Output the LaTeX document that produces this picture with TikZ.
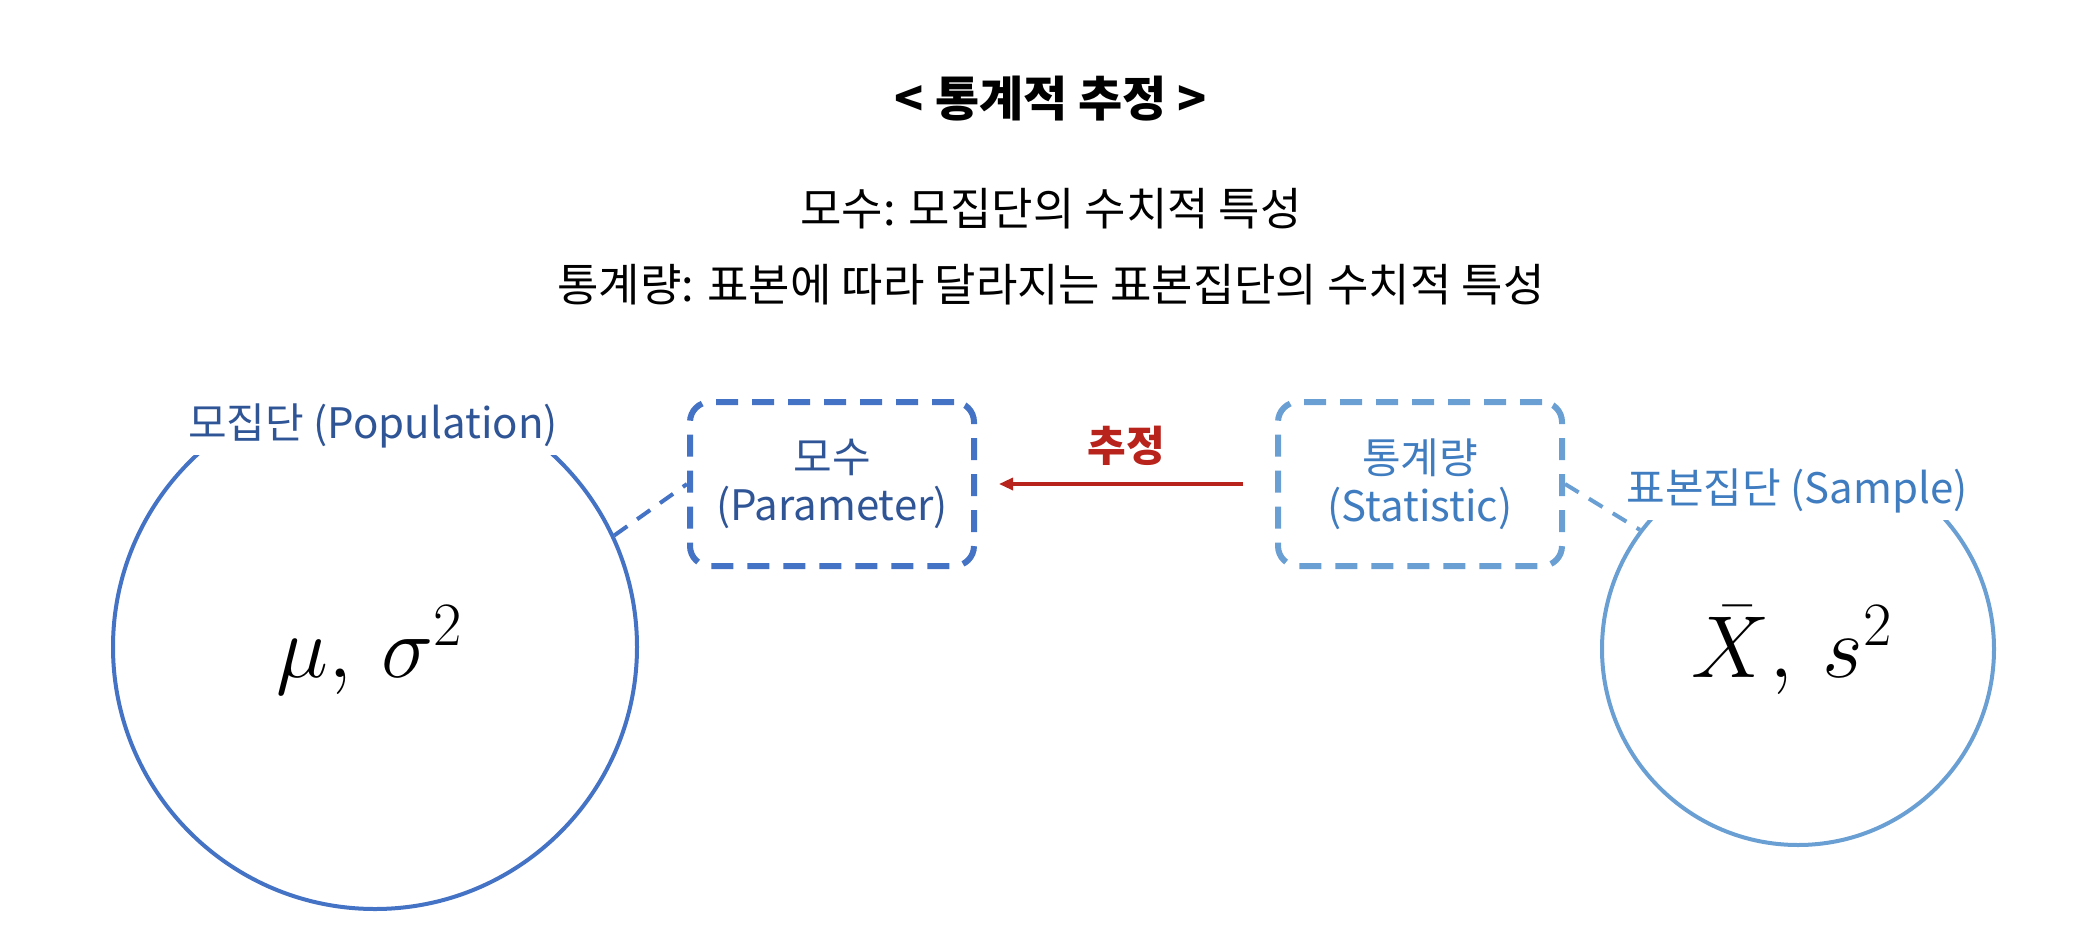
\RequirePackage{fix-cm}
\documentclass[tikz,border=0pt]{standalone}
\usepackage[no-math]{fontspec}
\setmainfont{Noto Sans CJK KR}
\usepackage{xcolor}
\usetikzlibrary{arrows.meta,positioning,calc}
\definecolor{cPop}{HTML}{4472C4}
\definecolor{cPopTx}{HTML}{2F5597}
\definecolor{cSam}{HTML}{6A9FD4}
\definecolor{cSamTx}{HTML}{3F7CC0}
\definecolor{cEst}{HTML}{B8231C}
\tikzset{
  txt/.style ={font=\fontsize{22.5}{25}\selectfont,align=center},
  btxt/.style={font=\fontsize{21}{24}\selectfont,align=center},
  ttl/.style ={font=\fontsize{24}{28}\selectfont\bfseries},
  mth/.style ={font=\fontsize{44}{48}\selectfont},
  popc/.style={circle,draw=cPop,line width=2pt,minimum size=262pt,inner sep=0pt},
  samc/.style={circle,draw=cSam,line width=2pt,minimum size=196pt,inner sep=0pt},
  lbl/.style ={btxt,fill=white,inner xsep=3pt,inner ysep=0pt,anchor=south,
               text height=31pt,text depth=8pt},
  dbox/.style={btxt,rounded corners=10pt,line width=3pt,dash pattern=on 11pt off 7pt,
               minimum width=142pt,minimum height=82pt},
  link/.style={line width=2pt,dash pattern=on 8pt off 6pt},
  estim/.style={-{Triangle[length=7pt,width=6pt]},line width=1.6pt,draw=cEst},
}

\begin{document}
\begin{tikzpicture}[x=0.5pt,y=-0.5pt]
\useasboundingbox (0,0) rectangle (2078,932);

% ---------------------------------------------------------------- HEADING
\node[ttl] (head) at (1051,99) {< 통계적 추정 >};
\node[txt] (defpar) at (1051,209) {모수: 모집단의 수치적 특성};
\node[txt] (defstat) at (1051,285) {통계량: 표본에 따라 달라지는 표본집단의 수치적 특성};

% ---------------------------------------------------------------- POPULATION
\node[popc] (pop) at (375,647) {};
\node[lbl,text=cPopTx] (popl) at (373,455) {모집단 (Population)};
\node[mth] (mpop) at (370,650) {$\mu,\,\sigma^{2}$};

% ---------------------------------------------------------------- SAMPLE
\node[samc] (sam) at (1798,649) {};
\node[lbl,text=cSamTx] (saml) at (1797,520) {표본집단 (Sample)};
\node[mth] (msam) at (1792,650) {$\bar{X},\,s^{2}$};

% ---------------------------------------------------------------- BOXES
\node[dbox,draw=cPop,text=cPopTx] (param) at (832,484) {모수\\(Parameter)};
\node[dbox,draw=cSam,text=cSamTx] (stat) at (1420,484) {통계량\\(Statistic)};

% ---------------------------------------------------------------- arrows
\draw[estim,shorten <=16pt,shorten >=11pt] (stat.west) --
  node[above=5pt,btxt,font=\fontsize{21}{24}\selectfont\bfseries,text=cEst] (estl) {추정} (param.east);
\draw[link,draw=cPop] (pop.25) -- (param.west);
\draw[link,draw=cSam] (stat.east) -- (sam.143);

\end{tikzpicture}
\end{document}
